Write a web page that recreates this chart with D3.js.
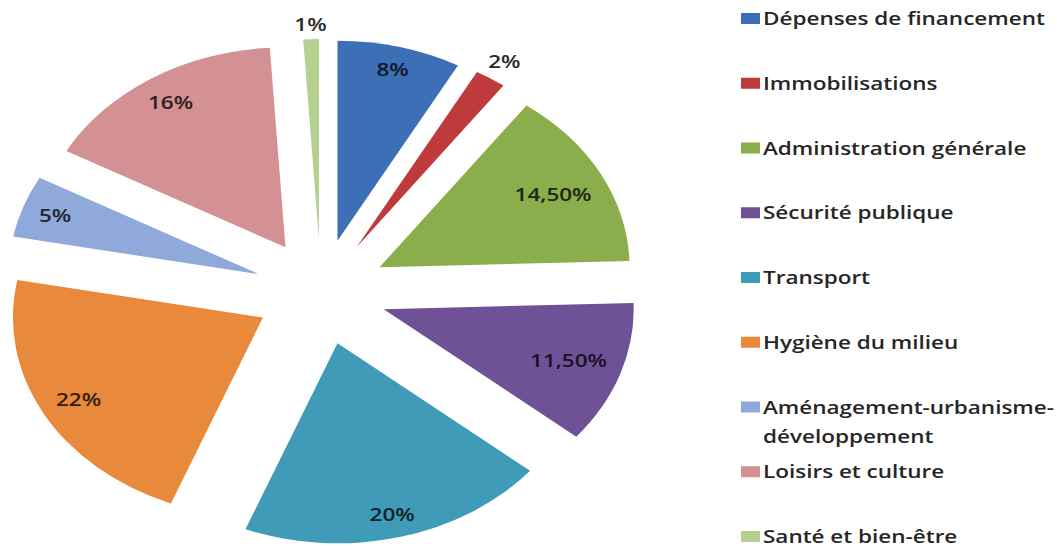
<!DOCTYPE html>
<html>
<head>
<meta charset="utf-8">
<script src="https://cdn.jsdelivr.net/npm/d3@7"></script>
<style>
  body { margin: 0; background: #fff; }
  text { font-family: "Open Sans", sans-serif; }
</style>
</head>
<body>
<div id="pie-chart"></div>
<script>
// DATA
const categories = [
    'Dépenses de financement',
    'Immobilisations',
    'Administration générale',
    'Sécurité publique',
    'Transport',
    'Hygiène du milieu',
    'Aménagement-urbanisme-développement',
    'Loisirs et culture',
    'Santé et bien-être'
];
const values = [8, 2, 14.5, 11.5, 20, 22, 5, 16, 1];
const labels = ['8%', '2%', '14,50%', '11,50%', '20%', '22%', '5%', '16%', '1%'];
const colors = ['#3d6fb6', '#bf3b3b', '#8aae4b', '#6f5197', '#3f9bb8',
                '#e8893b', '#8ea9da', '#d49193', '#b5d08f'];
// legend text split over lines
const legendLines = [
    ['Dépenses de financement'],
    ['Immobilisations'],
    ['Administration  générale'],
    ['Sécurité publique'],
    ['Transport'],
    ['Hygiène du milieu'],
    ['Aménagement-urbanisme-', 'développement'],
    ['Loisirs et culture'],
    ['Santé et bien-être']
];

// the source picture is stretched sideways, pie and text alike
const stretch = 1.25;

drawPie();
legend();

function drawPie() {

    const width = 1057;
    const height = 550;
    const cx = 321, cy = 292;
    const radius = 200;
    const explode = 53;

    const svg = d3.select('#pie-chart').append('svg')
        .attr('width', width)
        .attr('height', height);

    const pie = d3.pie()
        .sort(null)
        .value(d => d);
    const arc = d3.arc()
        .innerRadius(0)
        .outerRadius(radius);

    const arcs = pie(values);

    const slices = svg.append('g')
        .attr('transform', `translate(${cx},${cy}) scale(${stretch},1)`)
        .selectAll('g')
        .data(arcs)
        .join('g')
            // each slice pushed out along its bisector
            .attr('transform', d => {
                const m = (d.startAngle + d.endAngle) / 2;
                return `translate(${explode * Math.sin(m)},${-explode * Math.cos(m)})`;
            });

    slices.append('path')
        .attr('d', arc)
        .attr('fill', (d, i) => colors[i]);

    // labels: inside end for big slices, outside end for the small ones
    slices.append('text')
        .attr('text-anchor', 'middle')
        .attr('dominant-baseline', 'central')
        .attr('font-size', '18px')
        .attr('font-weight', 600)
        .attr('fill', (d, i) => d.value < 5 ? '#2a2a2a' : d3.interpolateRgb('#000', colors[i])(0.22))
        .text((d, i) => labels[i])
        .attr('transform', function(d) {
            const m = (d.startAngle + d.endAngle) / 2;
            const ux = Math.sin(m), uy = -Math.cos(m);
            const bb = this.getBBox();
            const proj = Math.abs(ux) * bb.width / 2 + Math.abs(uy) * 8;
            const dist = d.value < 5 ? radius + 7 + proj : radius - 12 - proj;
            return `translate(${ux * dist},${uy * dist})`;
        });
}

function legend() {

    const svg = d3.select('#pie-chart svg');

    const y = d3.scalePoint()
        .domain(categories)
        .range([18, 536]);

    const items = svg.append('g')
        .attr('id', 'pie-legend')
        .selectAll('g')
        .data(categories)
        .join('g')
            .attr('transform', d => `translate(741,${y(d)})`);

    items.append('rect')
        .attr('x', 0)
        .attr('y', -5)
        .attr('width', 19)
        .attr('height', 11)
        .attr('fill', (d, i) => colors[i]);

    items.append('text')
        .attr('transform', `translate(22,0) scale(${stretch},1)`)
        .attr('font-size', '18px')
        .attr('font-weight', 600)
        .attr('fill', '#262626')
        .selectAll('tspan')
        .data((d, i) => legendLines[i])
        .join('tspan')
            .attr('x', 0)
            .attr('y', (d, j) => j * 29)
            .attr('dominant-baseline', 'central')
            .text(d => d);
}
</script>
</body>
</html>
